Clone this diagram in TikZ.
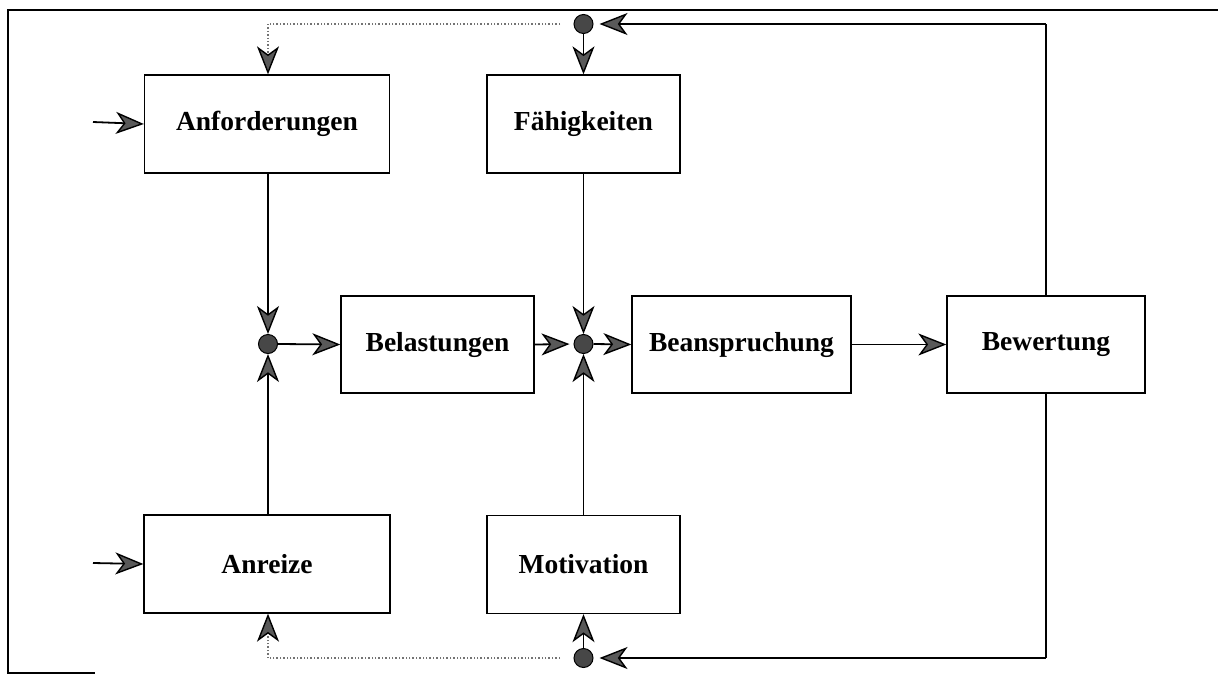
\documentclass[tikz,border=0pt]{standalone}
\usepackage{fontspec}
\setmainfont{Liberation Serif}
\usetikzlibrary{arrows.meta}
\begin{document}
\begin{tikzpicture}[x=1pt,y=-1pt,
  box/.style={draw, line width=1.3pt, minimum height=98pt, inner sep=0pt,
    font=\fontsize{27.5}{32}\selectfont\bfseries},
  dot/.style={circle, draw=black, fill=black!72, minimum size=19pt, inner sep=0pt, line width=1pt},
  conn/.style={line width=1.8pt, arrows={-Stealth[length=28pt,width=22pt,inset=8pt,color=black,fill=black!65,line width=1.4pt]}},
  plain/.style={line width=1.8pt},
  dots/.style={line width=1.4pt, black!55, dotted},
  frame/.style={line width=1.5pt}]
\useasboundingbox (0,0) rectangle (1218,675);
% frame
\draw[frame] (1218,10) -- (8,10) -- (8,673) -- (95,673);
% boxes
\node[box, minimum width=245pt] (anf) at (267,124) {Anforderungen};
\node[box, minimum width=193pt] (fae) at (583.5,124) {Fähigkeiten};
\node[box, minimum width=193pt, minimum height=97pt] (bel) at (437.5,344.5) {Belastungen};
\node[box, minimum width=219pt, minimum height=97pt] (bean) at (741.5,344.5) {Beanspruchung};
\node[box, minimum width=198pt, minimum height=97pt] (bew) at (1046,344.5) {Bewertung};
\node[box, minimum width=246pt] (anr) at (267,564) {Anreize};
\node[box, minimum width=193pt] (mot) at (583.5,564.5) {Motivation};
% junction dots
\node[dot] (d1) at (268,344) {};
\node[dot] (d2) at (583.5,344) {};
\node[dot] (dt) at (583.5,24) {};
\node[dot] (db) at (583.5,658) {};
% helper coordinates
\coordinate (inA) at (93,122);
\coordinate (inB) at (93,563);
\coordinate (tr) at (1046,24);
\coordinate (br) at (1046,658);
\coordinate (tl) at (268,24);
\coordinate (bl) at (268,658);
\coordinate (tdot) at (560,24);
\coordinate (bdot) at (560,658);
% inputs
\draw[conn] (inA) -- (anf.west);
\draw[conn] (inB) -- (anr.west);
% into d1
\draw[conn] (anf.south -| d1) -- (d1.north);
\draw[conn] (anr.north -| d1) -- (d1.south);
\draw[conn] (d1.east) -- (bel.west);
% into d2
\draw[conn, shorten >=4pt] (bel.east) -- (d2.west);
\draw[conn] (fae.south) -- (d2.north);
\draw[conn] (mot.north) -- (d2.south);
\draw[conn] (d2.east) -- (bean.west);
\draw[conn] (bean.east) -- (bew.west);
% feedback top
\draw[plain] (bew.north) -- (tr);
\draw[conn, shorten >=6pt] (tr) -- (dt.east);
\draw[conn] (dt.south) -- (fae.north);
\draw[dots] (tdot) -- (tl);
\draw[conn, dots] (tl) -- (anf.north -| tl);
% feedback bottom
\draw[plain] (bew.south) -- (br);
\draw[conn, shorten >=6pt] (br) -- (db.east);
\draw[conn] (db.north) -- (mot.south);
\draw[dots] (bdot) -- (bl);
\draw[conn, dots] (bl) -- (anr.south -| bl);
\end{tikzpicture}
\end{document}
